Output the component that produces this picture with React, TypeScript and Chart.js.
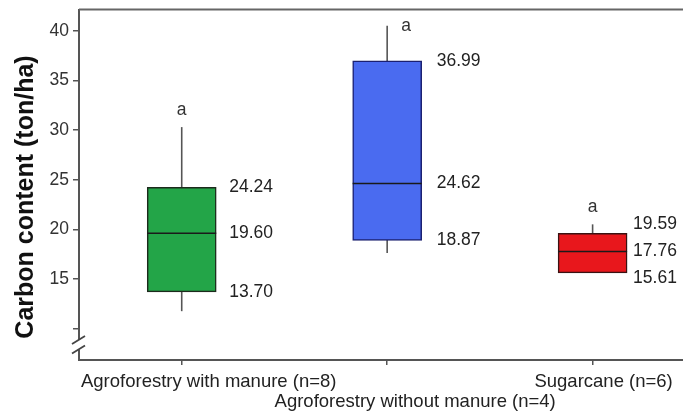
import React, { useEffect, useRef } from 'react';
import { Chart, registerables } from 'chart.js';

Chart.register(...registerables);

// ---------- data ----------
const categories = [
  'Agroforestry with manure (n=8)',
  'Agroforestry without manure (n=4)',
  'Sugarcane (n=6)',
];
const whiskerHigh = [30.3, 40.5, 20.5];
const upperQuartile = [24.24, 36.99, 19.59];
const medians = [19.6, 24.62, 17.76];
const lowerQuartile = [13.7, 18.87, 15.61];
const whiskerLow = [11.75, 17.6, 15.61];
const groupLetters = ['a', 'a', 'a'];
const yTickValues = [10, 15, 20, 25, 30, 35, 40];
const yTickLabels = ['', '15', '20', '25', '30', '35', '40'];
const yAxisTitle = 'Carbon content (ton/ha)';

// ---------- style ----------
const FONT = '"Liberation Sans", Arial, sans-serif';
const boxColors = ['#23a548', '#4a6bf0', '#e8171c'];
const boxBorders = ['#1c2a1c', '#1b2070', '#3a1212'];
const valueLabelGap = [13, 15, 6];
const xLabelShift = [27, 28, 11];
const xLabelLine = [0, 1, 0];
const fmt = (v: number) => v.toFixed(2);

const boxPlugin = {
  id: 'boxExtras',
  beforeDatasetsDraw(chart: any) {
    const ctx = chart.ctx;
    const y = chart.scales.y;
    const meta = chart.getDatasetMeta(0);
    ctx.save();
    ctx.strokeStyle = '#555';
    ctx.lineWidth = 1.6;
    meta.data.forEach((bar: any, i: number) => {
      const x = bar.x;
      ctx.beginPath();
      ctx.moveTo(x, y.getPixelForValue(whiskerHigh[i]));
      ctx.lineTo(x, y.getPixelForValue(whiskerLow[i]));
      ctx.stroke();
    });
    ctx.restore();
  },
  afterDatasetsDraw(chart: any) {
    const ctx = chart.ctx;
    const y = chart.scales.y;
    const area = chart.chartArea;
    const meta = chart.getDatasetMeta(0);
    ctx.save();
    meta.data.forEach((bar: any, i: number) => {
      const half = bar.width / 2;
      const my = y.getPixelForValue(medians[i]);
      ctx.strokeStyle = '#1a1a1a';
      ctx.lineWidth = 1.5;
      ctx.beginPath();
      ctx.moveTo(bar.x - half, my);
      ctx.lineTo(bar.x + half, my);
      ctx.stroke();

      // value labels with simple collision avoidance around the median
      const gap = 27;
      let ty = y.getPixelForValue(upperQuartile[i]);
      let by = y.getPixelForValue(lowerQuartile[i]);
      if (my - ty < gap) ty = my - gap;
      if (by - my < gap) by = my + gap;
      ctx.fillStyle = '#222';
      ctx.font = `17.5px ${FONT}`;
      ctx.textAlign = 'left';
      ctx.textBaseline = 'middle';
      const lx = bar.x + half + valueLabelGap[i];
      ctx.fillText(fmt(upperQuartile[i]), lx, ty);
      ctx.fillText(fmt(medians[i]), lx, my);
      ctx.fillText(fmt(lowerQuartile[i]), lx, by);

      // group letters
      const wy = y.getPixelForValue(whiskerHigh[i]);
      ctx.textAlign = 'center';
      ctx.fillStyle = '#333';
      if (wy - 17 < area.top + 12) {
        ctx.fillText(groupLetters[i], bar.x + 19, wy);
      } else {
        ctx.fillText(groupLetters[i], bar.x, wy - 17);
      }
    });
    ctx.restore();
  },
  afterDraw(chart: any) {
    const ctx = chart.ctx;
    const area = chart.chartArea;
    const xs = chart.scales.x;
    ctx.save();
    // top border
    ctx.strokeStyle = '#666';
    ctx.lineWidth = 2;
    ctx.beginPath();
    ctx.moveTo(area.left, area.top);
    ctx.lineTo(area.right, area.top);
    ctx.stroke();

    // axis break
    const b1 = area.bottom - 20;
    const b2 = area.bottom - 10.5;
    ctx.fillStyle = '#fff';
    ctx.fillRect(area.left - 2, b1, 4, b2 - b1);
    ctx.strokeStyle = '#444';
    ctx.lineWidth = 1.8;
    [b1, b2].forEach((by) => {
      ctx.beginPath();
      ctx.moveTo(area.left - 7, by + 4);
      ctx.lineTo(area.left + 6, by - 4);
      ctx.stroke();
    });

    // y title
    ctx.save();
    ctx.translate(26, 197);
    ctx.rotate(-Math.PI / 2);
    ctx.fillStyle = '#111';
    ctx.font = `bold 25px ${FONT}`;
    ctx.textAlign = 'center';
    ctx.textBaseline = 'middle';
    ctx.fillText(yAxisTitle, 0, 0);
    ctx.restore();

    // x labels
    ctx.fillStyle = '#222';
    ctx.font = `18.5px ${FONT}`;
    ctx.textAlign = 'center';
    ctx.textBaseline = 'middle';
    categories.forEach((c, i) => {
      const px = xs.getPixelForValue(i + 1) + xLabelShift[i];
      ctx.fillText(c, px, area.bottom + 22 + xLabelLine[i] * 20);
    });
    ctx.restore();
  },
};

export default function App() {
  const ref = useRef<HTMLCanvasElement | null>(null);
  useEffect(() => {
    document.body.style.margin = '0';
    const canvas = ref.current;
    if (!canvas) return;
    const chart = new Chart(canvas, {
      type: 'bar',
      data: {
        datasets: [
          {
            data: categories.map((_, i) => ({ x: i + 1, y: [lowerQuartile[i], upperQuartile[i]] })) as any,
            backgroundColor: boxColors,
            borderColor: boxBorders,
            borderWidth: 1.5,
            borderSkipped: false,
            barThickness: 69,
          },
        ],
      },
      options: {
        responsive: false,
        animation: false,
        devicePixelRatio: 1,
        layout: { padding: { top: 9.5, right: 0, bottom: 0, left: 0 } },
        plugins: {
          legend: { display: false },
          tooltip: { enabled: false },
          title: { display: false },
        },
        scales: {
          x: {
            type: 'linear',
            min: 0.5,
            max: 3.44,
            offset: false,
            afterBuildTicks: (s: any) => {
              s.ticks = categories.map((_, i) => ({ value: i + 1 }));
            },
            afterFit: (s: any) => {
              s.height = 53;
              s.paddingLeft = 0;
              s.paddingRight = 0;
            },
            ticks: { callback: () => '', autoSkip: false, maxRotation: 0 },
            grid: {
              display: true,
              offset: false,
              drawOnChartArea: false,
              drawTicks: true,
              tickLength: 5,
              color: '#555',
              lineWidth: 1.5,
            },
            border: { display: true, color: '#555', width: 2 },
          },
          y: {
            type: 'linear',
            min: 6.83,
            max: 42.15,
            afterBuildTicks: (s: any) => {
              s.ticks = yTickValues.map((v) => ({ value: v }));
            },
            afterFit: (s: any) => {
              s.width = 79;
              s.paddingTop = 0;
              s.paddingBottom = 0;
            },
            ticks: {
              callback: (v: any) => {
                const k = yTickValues.indexOf(Number(v));
                return k >= 0 ? yTickLabels[k] : '';
              },
              font: { size: 17.5, family: FONT },
              color: '#333',
              padding: 4,
            },
            grid: {
              drawOnChartArea: false,
              drawTicks: true,
              tickLength: 6,
              color: '#555',
              lineWidth: 1.5,
            },
            border: { display: true, color: '#555', width: 2 },
          },
        },
      } as any,
      plugins: [boxPlugin],
    });
    return () => chart.destroy();
  }, []);
  return (
    <div style={{ width: 683, height: 413, background: '#fff' }}>
      <canvas ref={ref} width={683} height={413} style={{ display: 'block' }} />
    </div>
  );
}
